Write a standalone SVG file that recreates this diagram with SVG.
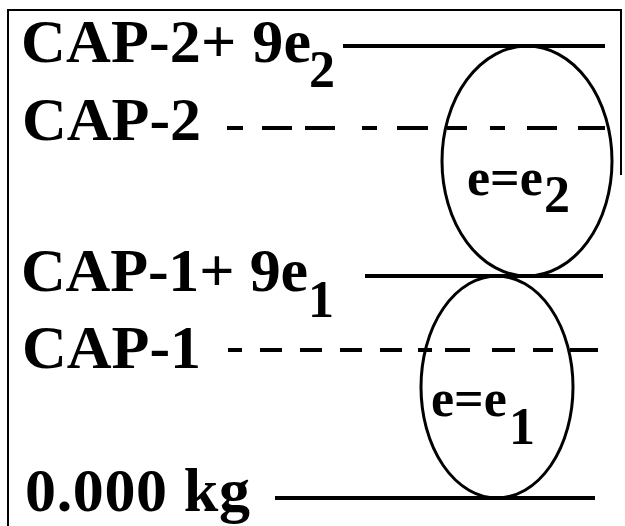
<svg xmlns="http://www.w3.org/2000/svg" width="625" height="526" viewBox="0 0 625 526">
<style>
.lbl{font-family:"Liberation Serif","Times New Roman",serif;font-weight:bold;fill:#000}
.big{font-size:62px}
.sub{font-size:52px}
.in{font-size:52px}
.ln{stroke:#000;stroke-width:4;fill:none}
.eg{stroke:#000;stroke-width:3;fill:none}
.fr{stroke:#000;stroke-width:2;fill:none}
</style>
<rect width="625" height="526" fill="#fff"/>
<path class="fr" d="M8,526 V10 H621 V175"/>
<g id="connectors">
<path class="ln" d="M343,46 H605"/>
<path class="ln" d="M227,128 h16 M262,128 h30 M305,128 h30 M362,128 h15 M397,128 h31 M447,128 h20 M490,128 h15 M527,128 h30 M578,128 h27"/>
<path class="ln" d="M365,276 H603"/>
<path class="ln" d="M228,350 h14 M260,350 h22 M300,350 h22 M340,350 h22 M380,350 h22 M418,350 h14 M445,350 h25 M492,350 h23 M533,350 h20 M570,350 h28"/>
<path class="ln" d="M275,498 H595"/>
</g>
<g id="label-cap2-9e2">
<text class="lbl big" x="21" y="62" textLength="290">CAP-2+ 9e</text>
<text class="lbl sub" x="309" y="87">2</text>
</g>
<g id="label-cap2">
<text class="lbl big" x="22" y="140">CAP-2</text>
</g>
<g id="label-cap1-9e1">
<text class="lbl big" x="21" y="291" textLength="287">CAP-1+ 9e</text>
<text class="lbl sub" x="308" y="317">1</text>
</g>
<g id="label-cap1">
<text class="lbl big" x="22" y="368">CAP-1</text>
</g>
<g id="label-zero">
<text class="lbl big" x="25" y="511" textLength="225">0.000 kg</text>
</g>
<g id="node-e2">
<ellipse class="eg" cx="527" cy="161" rx="85" ry="115"/>
<text class="lbl in" x="467" y="195">e=e</text>
<text class="lbl in" x="544" y="212">2</text>
</g>
<g id="node-e1">
<ellipse class="eg" cx="497" cy="387" rx="76" ry="111"/>
<text class="lbl in" x="431" y="416">e=e</text>
<text class="lbl in" x="509" y="444">1</text>
</g>
</svg>
